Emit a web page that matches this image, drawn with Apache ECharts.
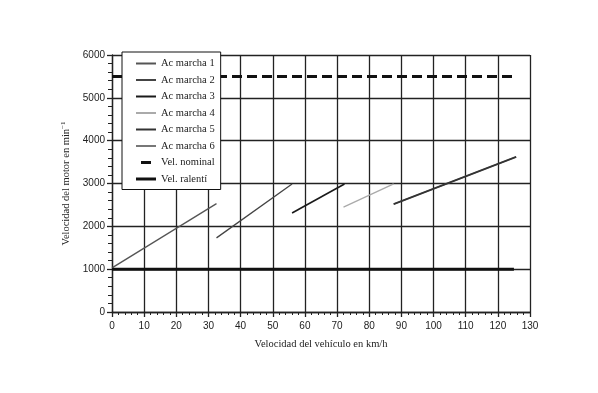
<!DOCTYPE html>
<html><head><meta charset="utf-8">
<script src="https://cdn.jsdelivr.net/npm/echarts@6/dist/echarts.min.js"></script>
<style>html,body{margin:0;padding:0;background:#fff}#c{width:598px;height:393px}</style>
</head><body><div id="c"></div>
<script>
const seriesNames = ['Ac marcha 1','Ac marcha 2','Ac marcha 3','Ac marcha 4','Ac marcha 5','Ac marcha 6','Vel. nominal','Vel. ralentí'];
const gear1 = [[0,1030],[32.5,2530]];
const gear2 = [[32.5,1730],[56,2990]];
const gear3 = [[56,2310],[72.3,2990]];
const gear4 = [[72,2450],[87.6,2990]];
const gear5 = [[87.6,2520],[125.7,3620]];
const gear6 = [[87.6,2520],[125.7,3620]];
const nominal = [[0,5500],[125,5500]];
const idle = [[0,1000],[125,1000]];
const xTicks = [0,10,20,30,40,50,60,70,80,90,100,110,120,130];
const yTicks = [0,1000,2000,3000,4000,5000,6000];

const colors = ['#555','#444','#1a1a1a','#aaa','#333','#777','#111','#111'];
const widths = [1.3,1.3,1.6,1.3,1.8,1.3,3,3];
const datas = [gear1,gear2,gear3,gear4,gear5,gear6,nominal,idle];
const serif = '"Liberation Serif","DejaVu Serif",serif';
const sans = '"Liberation Sans",Arial,sans-serif';
const thinIcon = 'path://M0,0H20V2H0Z';
const thickIcon = 'path://M0,0H20V3H0Z';
const dashIcon = 'path://M0,1H0.01V1.01H0Z M5,0H15V3H5Z M19.99,1H20V1.01H19.99Z';

const chart = echarts.init(document.getElementById('c'));
chart.setOption({
  animation:false,
  backgroundColor:'#fff',
  grid:{left:112,right:68,top:55,bottom:81},
  legend:{
    left:122, top:52, orient:'vertical', width:99, height:133,
    backgroundColor:'#fff', borderColor:'#111', borderWidth:1,
    padding:[6,6,5,14], itemGap:5.5, itemWidth:20, itemHeight:11,
    textStyle:{fontFamily:serif,fontSize:10.5,color:'#222'},
    data:seriesNames.map((n,i)=>({name:n, icon: i===6 ? dashIcon : (i===7 ? thickIcon : thinIcon), itemStyle:{color:colors[i]}}))
  },
  xAxis:{
    type:'value', min:xTicks[0], max:xTicks[xTicks.length-1], interval:10,
    name:'Velocidad del vehículo en km/h', nameLocation:'middle', nameGap:27,
    nameTextStyle:{fontFamily:serif,fontSize:10.5,color:'#222'},
    axisLine:{show:true,lineStyle:{color:'#222',width:1.3}},
    axisTick:{show:true,length:5,inside:false,lineStyle:{color:'#222',width:1.3}},
    minorTick:{show:true,splitNumber:5,length:3,lineStyle:{color:'#222',width:1}},
    axisLabel:{fontFamily:sans,fontSize:10,color:'#222',margin:9},
    splitLine:{show:true,lineStyle:{color:'#222',width:1.3}}
  },
  yAxis:{
    type:'value', min:yTicks[0], max:yTicks[yTicks.length-1], interval:1000,
    name:'{a|Velocidad del motor en min}{s|−1}', nameLocation:'middle', nameGap:33,
    nameTextStyle:{fontFamily:serif,fontSize:10.5,color:'#222',
      rich:{a:{fontFamily:serif,fontSize:10.5,color:'#222'},s:{fontFamily:serif,fontSize:7,color:'#222',verticalAlign:'top',padding:[0,0,6,0]}}},
    axisLine:{show:true,lineStyle:{color:'#222',width:1.3}},
    axisTick:{show:true,length:5,lineStyle:{color:'#222',width:1.3}},
    minorTick:{show:true,splitNumber:5,length:4,lineStyle:{color:'#222',width:1}},
    axisLabel:{fontFamily:sans,fontSize:10,color:'#222',margin:7,formatter:v=>String(v)},
    splitLine:{show:true,lineStyle:{color:'#222',width:1.3}}
  },
  series: seriesNames.map((n,i)=>({
    name:n, type:'line', data:datas[i], showSymbol:false, symbol:'none',
    z: i===5 ? 1 : 3,
    lineStyle:{color:colors[i],width:widths[i],type: i===6 ? [10,5] : 'solid'},
    itemStyle:{color:colors[i]}
  }))
});
</script></body></html>
